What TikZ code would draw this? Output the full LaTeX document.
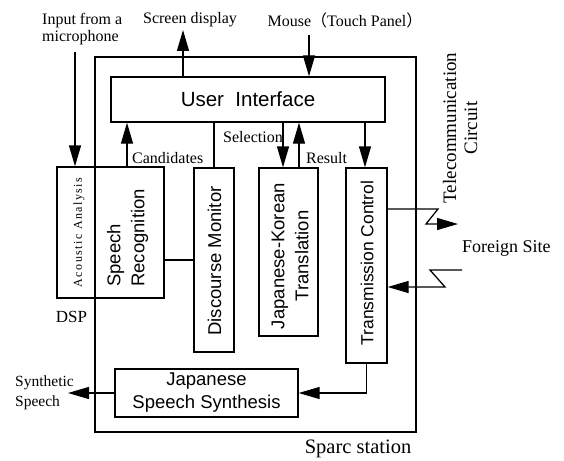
\documentclass[tikz,border=0pt]{standalone}
\usepackage{fontspec}
\setmainfont{Liberation Serif}
\setsansfont{Liberation Sans}
\newfontfamily\cjk{Noto Sans CJK JP}
\newfontfamily\acfont[LetterSpace=12]{Liberation Serif}
\usetikzlibrary{arrows.meta}
\begin{document}
\begin{tikzpicture}[x=1pt,y=-1pt,
  box/.style={draw, line width=1.3pt, inner sep=0pt, rectangle},
  ln/.style={line width=1.3pt},
  arr/.style={line width=1.3pt, -{Triangle[length=21pt,width=12pt]}},
  lab/.style={inner sep=0pt, font=\fontsize{16}{17}\selectfont},
  bt/.style={inner sep=0pt, font=\sffamily\fontsize{18.5}{24}\selectfont},
]
\useasboundingbox (0,0) rectangle (564,460);
% boxes
\node[box, minimum width=321, minimum height=375] (sparc) at (255.5,244.5) {};
\node[box, minimum width=274, minimum height=45] (ui) at (248,99.5) {};
\node[box, minimum width=107, minimum height=131] (ac) at (110.5,232.5) {};
\node[box, minimum width=40, minimum height=184] (dm) at (214,260) {};
\node[box, minimum width=59, minimum height=168] (jk) at (288.5,252) {};
\node[box, minimum width=41, minimum height=195] (tc) at (366.5,265.5) {};
\node[box, minimum width=183, minimum height=48] (ss) at (206.5,393) {};
% box texts
\node[bt, font=\sffamily\fontsize{20.5}{24}\selectfont] (uit) at (ui.center) {User\ \ Interface};
\node[inner sep=0pt, rotate=90, font=\acfont\fontsize{12}{14}\selectfont] (act) at (79,232.5) {Acoustic Analysis};
\node[bt, rotate=90, align=left] (srt) at (127.5,238) {Speech\\Recognition};
\node[bt, rotate=90] (dmt) at (214.5,261) {Discourse Monitor};
\node[bt, rotate=90, align=center] (jkt) at (290,256) {Japanese-Korean\\Translation};
\node[bt, rotate=90, font=\sffamily\fontsize{17.5}{22}\selectfont] (tct) at (367,263) {Transmission Control};
\node[bt, align=center, font=\sffamily\fontsize{18.5}{23}\selectfont] (sst) at (ss.center) {Japanese\\Speech Synthesis};
% labels
\node[lab, anchor=west, align=left] (micl) at (42,29) {Input from a\\microphone};
\node[lab] (scrl) at (190,20) {Screen display};
\node[lab] (msl) at (345,20) {Mouse{\cjk （}Touch Panel{\cjk ）}};
\node[lab, anchor=west] (candl) at (132,158) {Candidates};
\node[lab, anchor=west] (sell) at (223,137) {Selection};
\node[lab, anchor=west] (resl) at (306,158) {Result};
\node[lab, font=\fontsize{17}{19}\selectfont] (dspl) at (71.5,317) {DSP};
\node[lab, rotate=90, align=center, font=\fontsize{19}{21}\selectfont] (tcl) at (460,128) {Telecommunication\\Circuit};
\node[lab, anchor=west, font=\fontsize{18}{20}\selectfont] (fsl) at (462,248) {Foreign Site};
\node[lab, anchor=west, align=left, font=\fontsize{15.5}{20}\selectfont] (synl) at (15,393) {Synthetic\\Speech};
\node[lab, font=\fontsize{20.5}{24}\selectfont] (spl) at (358,449) {Sparc station};
% free ends
\coordinate (scr) at (183,30);
\coordinate (ms) at (309,35);
\coordinate (mic) at (75,52);
\coordinate (outA) at (438,209);
\coordinate (outB) at (426,224);
\coordinate (outC) at (458,224);
\coordinate (inA) at (462,270);
\coordinate (inB) at (430,270);
\coordinate (inC) at (445,287);
\coordinate (synout) at (68,393);
% connectors
\draw[arr] (ui.north -| scr) -- (scr);
\draw[arr] (ms) -- (ui.north -| ms);
\draw[arr] (mic) -- (ac.north -| mic);
\draw[arr] (ac.north -| 127,0) -- (ui.south -| 127,0);
\draw[ln] (ui.south -| dm.north) -- (dm.north);
\draw[ln] (ac.east |- 0,260) -- (dm.west |- 0,260);
\draw[arr] (ui.south -| 283,0) -- (jk.north -| 283,0);
\draw[arr] (jk.north -| 299,0) -- (ui.south -| 299,0);
\draw[arr] (ui.south -| 365,0) -- (tc.north -| 365,0);
\draw[arr] (tc.east |- outA) -- (outA) -- (outB) -- (outC);
\draw[arr] (inA) -- (inB) -- (inC) -- (tc.east |- inC);
\draw[arr] (tc.south) -- (tc.south |- ss.east) -- (ss.east);
\draw[arr] (ss.west) -- (synout);
\end{tikzpicture}
\end{document}
